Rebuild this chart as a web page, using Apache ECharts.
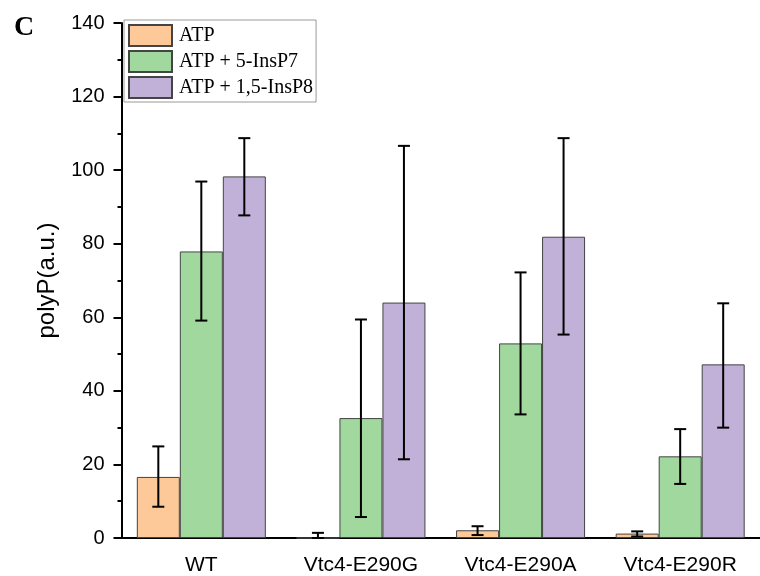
<!DOCTYPE html>
<html>
<head>
<meta charset="utf-8">
<script src="https://cdn.jsdelivr.net/npm/echarts@6/dist/echarts.min.js"></script>
<style>
  html, body { margin: 0; padding: 0; background: #fff; }
  #chart { width: 760px; height: 576px; }
</style>
</head>
<body>
<div id="chart"></div>
<script>
// data
var categories = ["WT", "Vtc4-E290G", "Vtc4-E290A", "Vtc4-E290R"];
var seriesNames = ["ATP", "ATP + 5-InsP7", "ATP + 1,5-InsP8"];

var atp = [16.6, 0, 2.1, 1.2];
var atpLow = [8.5, 0, 0.8, 0.4];
var atpHigh = [24.9, 1.4, 3.2, 1.8];

var insp7 = [77.9, 32.6, 52.9, 22.2];
var insp7Low = [59.1, 5.7, 33.6, 14.7];
var insp7High = [96.9, 59.4, 72.2, 29.6];

var insp8 = [98.3, 64.0, 81.9, 47.2];
var insp8Low = [87.7, 21.4, 55.3, 30.0];
var insp8High = [108.7, 106.6, 108.7, 63.8];

var yTicks = [0, 20, 40, 60, 80, 100, 120, 140];

var colors = ["#fdc998", "#a0d89e", "#c1b1d8"];
var barW = 43;

function errData(low, high) {
  return categories.map(function (c, i) {
    return [i, low[i], high[i]];
  });
}

// error bars drawn through the axis scales, shifted to the bar centre
function errSeries(low, high, offset) {
  return {
    type: "custom",
    xAxisIndex: 0,
    yAxisIndex: 0,
    z: 10,
    silent: true,
    encode: { x: 0, y: [1, 2] },
    data: errData(low, high),
    renderItem: function (params, api) {
      var lo = api.coord([api.value(0), api.value(1)]);
      var hi = api.coord([api.value(0), api.value(2)]);
      var x = lo[0] + offset;
      var cap = 6;
      var st = { stroke: "#000", lineWidth: 2 };
      return {
        type: "group",
        children: [
          { type: "line", shape: { x1: x, y1: lo[1], x2: x, y2: hi[1] }, style: st },
          { type: "line", shape: { x1: x - cap, y1: hi[1], x2: x + cap, y2: hi[1] }, style: st },
          { type: "line", shape: { x1: x - cap, y1: lo[1], x2: x + cap, y2: lo[1] }, style: st }
        ]
      };
    }
  };
}

function barSeries(name, data, color) {
  return {
    name: name,
    type: "bar",
    barWidth: barW,
    barGap: "0%",
    data: data,
    itemStyle: { color: color, borderColor: "#444", borderWidth: 1 }
  };
}

var myChart = echarts.init(document.getElementById("chart"));
myChart.setOption({
  animation: false,
  title: {
    text: "C",
    left: 9,
    top: 9,
    textStyle: { fontFamily: "Liberation Serif", fontWeight: "bold", fontSize: 28, color: "#000" }
  },
  legend: {
    data: seriesNames,
    orient: "vertical",
    left: 124,
    top: 20,
    padding: [4, 3, 3, 4],
    itemWidth: 43,
    itemHeight: 21,
    itemGap: 3,
    icon: "rect",
    borderColor: "#999",
    borderWidth: 1,
    textStyle: { fontFamily: "Liberation Serif", fontSize: 20, color: "#000", padding: [0, 0, 0, 2] }
  },
  grid: { left: 121.5, top: 23, width: 640, height: 516 },
  xAxis: [
    {
      type: "category",
      data: categories,
      axisLine: { lineStyle: { color: "#000", width: 2 } },
      axisTick: { alignWithLabel: true, length: 9, lineStyle: { color: "#000", width: 2 } },
      axisLabel: { fontFamily: "Liberation Sans", fontSize: 21, color: "#000", margin: 17 }
    },
    {
      type: "category",
      data: categories,
      position: "bottom",
      axisLine: { show: false },
      axisTick: { length: 5, lineStyle: { color: "#000", width: 2 } },
      axisLabel: { show: false }
    }
  ],
  yAxis: {
    type: "value",
    min: yTicks[0],
    max: yTicks[yTicks.length - 1],
    interval: 20,
    name: "polyP(a.u.)",
    nameLocation: "middle",
    nameRotate: 90,
    nameGap: 62,
    nameTextStyle: { fontFamily: "Liberation Sans", fontSize: 24, color: "#000" },
    axisLine: { show: true, lineStyle: { color: "#000", width: 2 } },
    axisTick: { show: true, length: 8, lineStyle: { color: "#000", width: 2 } },
    minorTick: { show: true, splitNumber: 2, length: 4, lineStyle: { color: "#000", width: 2 } },
    splitLine: { show: false },
    axisLabel: { fontFamily: "Liberation Sans", fontSize: 20, color: "#000", margin: 17 }
  },
  series: [
    barSeries(seriesNames[0], atp, colors[0]),
    barSeries(seriesNames[1], insp7, colors[1]),
    barSeries(seriesNames[2], insp8, colors[2]),
    errSeries(atpLow, atpHigh, -barW),
    errSeries(insp7Low, insp7High, 0),
    errSeries(insp8Low, insp8High, barW)
  ]
});
</script>
</body>
</html>
